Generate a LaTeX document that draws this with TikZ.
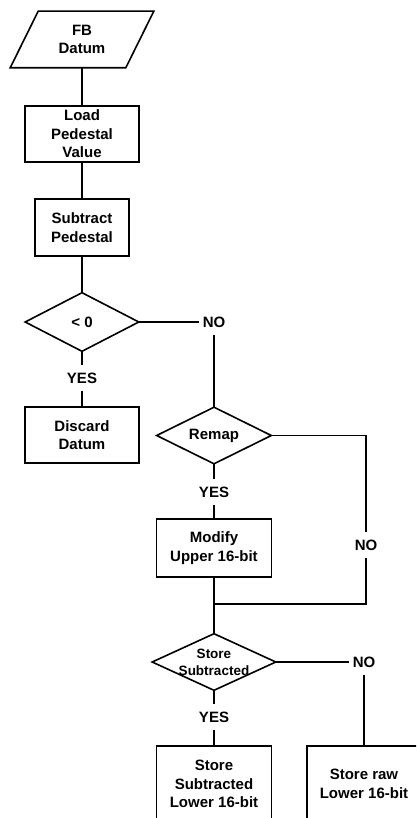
\documentclass[tikz,border=0pt]{standalone}
\usepackage{fontspec}
\setmainfont{Liberation Sans}
\begin{document}
\begin{tikzpicture}[x=1pt,y=-1pt,line width=1.6pt,
  txt/.style={font=\bfseries\fontsize{15}{18.5}\selectfont,align=center,inner sep=0pt},
  procbox/.style={txt,draw,rectangle},
  plain/.style={txt,rectangle},
  lbl/.style={txt,minimum height=24pt,inner xsep=3pt},
  small/.style={font=\bfseries\fontsize{13.5}{17}\selectfont}]
\useasboundingbox (0,0) rectangle (416,818);
\clip (0,0) rectangle (416,818);

% input datum (parallelogram)
\node[plain,minimum width=114pt,minimum height=55pt] (fb) at (82,39.5) {FB\\Datum};
\draw ([xshift=14pt]fb.north west) -- ([xshift=14pt]fb.north east)
   -- ([xshift=-14pt]fb.south east) -- ([xshift=-14pt]fb.south west) -- cycle;

% processing steps
\node[procbox,minimum width=114pt,minimum height=56pt] (load) at (82,134) {Load\\Pedestal\\Value};
\node[procbox,minimum width=94pt,minimum height=57pt] (sub) at (82,227.5) {Subtract\\Pedestal};

% decision: negative?
\node[plain,minimum width=112pt,minimum height=57pt] (neg) at (82,322) {< 0};
\draw (neg.north) -- (neg.east) -- (neg.south) -- (neg.west) -- cycle;

\node[procbox,minimum width=114pt,minimum height=56pt] (discard) at (82,435) {Discard\\Datum};

% decision: remap?
\node[plain,minimum width=113pt,minimum height=55pt] (remap) at (214,435.5) {Remap};
\draw (remap.north) -- (remap.east) -- (remap.south) -- (remap.west) -- cycle;

\node[procbox,minimum width=115pt,minimum height=58pt] (modify) at (214,548) {Modify\\Upper 16-bit};

% decision: store subtracted?
\node[plain,small,minimum width=122pt,minimum height=55pt] (ss) at (214,662) {Store\\Subtracted};
\draw (ss.north) -- (ss.east) -- (ss.south) -- (ss.west) -- cycle;

% final stores
\node[procbox,minimum width=115pt,minimum height=76pt] (storesub) at (214,784) {Store\\Subtracted\\Lower 16-bit};
\node[procbox,minimum width=114pt,minimum height=76pt] (storeraw) at (364,784) {Store raw\\Lower 16-bit};

% branch labels
\node[lbl] (no1) at (214,322) {NO};
\node[lbl] (yes1) at (82,378) {YES};
\node[lbl] (yes2) at (214,492) {YES};
\node[lbl] (no2) at (366,545) {NO};
\node[lbl] (no3) at (364,662) {NO};
\node[lbl] (yes3) at (214,717) {YES};
\coordinate (join) at (214,604);

% connectors
\draw (fb.south) -- (load.north);
\draw (load.south) -- (sub.north);
\draw (sub.south) -- (neg.north);
\draw (neg.east) -- (no1.west);
\draw (no1.south) -- (remap.north);
\draw (neg.south) -- (yes1.north);
\draw (yes1.south) -- (discard.north);
\draw (remap.south) -- (yes2.north);
\draw (yes2.south) -- (modify.north);
\draw (remap.east) -| (no2.north);
\draw (no2.south) |- (join);
\draw (modify.south) -- (join) -- (ss.north);
\draw (ss.east) -- (no3.west);
\draw (no3.south) -- (storeraw.north);
\draw (ss.south) -- (yes3.north);
\draw (yes3.south) -- (storesub.north);
\end{tikzpicture}
\end{document}
